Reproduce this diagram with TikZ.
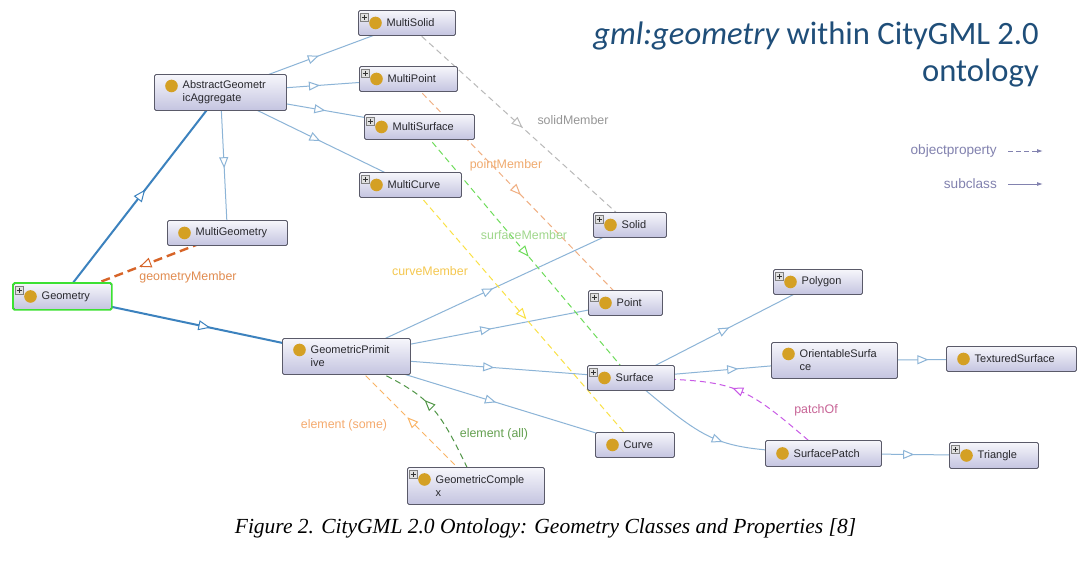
\documentclass[tikz,border=0pt]{standalone}
\usepackage{fontspec}
\setmainfont{Liberation Sans}
\newfontfamily\titlefont{Carlito}
\newfontfamily\capfont{Liberation Serif}
\usetikzlibrary{arrows.meta,decorations.markings,backgrounds,calc}

\definecolor{subc}{RGB}{140,180,215}
\definecolor{subthickc}{RGB}{60,130,190}
\definecolor{boxborder}{RGB}{90,90,105}
\definecolor{boxtop}{RGB}{246,246,251}
\definecolor{boxbot}{RGB}{196,196,224}
\definecolor{dotc}{RGB}{212,160,36}
\definecolor{txtc}{RGB}{40,40,45}
\definecolor{titlec}{RGB}{31,78,121}
\definecolor{legc}{RGB}{130,130,175}
\definecolor{gmline}{RGB}{215,100,40}
\definecolor{gmtext}{RGB}{225,140,80}
\definecolor{smline}{RGB}{185,185,185}
\definecolor{smtext}{RGB}{150,150,150}
\definecolor{pmline}{RGB}{240,175,130}
\definecolor{pmtext}{RGB}{240,170,110}
\definecolor{sfline}{RGB}{110,220,90}
\definecolor{sftext}{RGB}{160,215,140}
\definecolor{cmline}{RGB}{250,225,70}
\definecolor{cmtext}{RGB}{245,200,80}
\definecolor{esline}{RGB}{250,180,100}
\definecolor{estext}{RGB}{245,170,110}
\definecolor{ealine}{RGB}{80,150,70}
\definecolor{eatext}{RGB}{100,160,80}
\definecolor{poline}{RGB}{200,90,230}
\definecolor{potext}{RGB}{200,100,150}
\definecolor{geoborder}{RGB}{60,225,50}

\tikzset{
  clsbox/.style={draw=boxborder, line width=0.9pt, rounded corners=1.5pt,
    top color=boxtop, bottom color=boxbot, inner sep=0pt},
  clstext/.style={font=\fontsize{11}{13}\selectfont, text=txtc, align=left, inner sep=0pt},
  plusbox/.style={draw=gray, fill=black!12, line width=0.5pt},
  plussign/.style={draw=black!80, line width=0.7pt},
  sub/.style={draw=subc, line width=1pt},
  subthick/.style={draw=subthickc, line width=2pt},
  midtri/.style={postaction={decorate}, decoration={markings,
    mark=at position 0.5 with {\arrow[xshift=5.5pt]{Triangle[length=11pt,width=9pt,fill=white]}}}},
  midtribig/.style={postaction={decorate}, decoration={markings,
    mark=at position 0.5 with {\arrow[xshift=6pt]{Triangle[length=12pt,width=10pt,fill=white,line width=1pt]}}}},
  opline/.style={line width=1pt, dash pattern=on 6pt off 4pt},
  gmem/.style={draw=gmline, line width=2.4pt, dash pattern=on 9pt off 5pt},
  smem/.style={opline, draw=smline},
  pmem/.style={opline, draw=pmline},
  sfmem/.style={opline, draw=sfline},
  cmem/.style={opline, draw=cmline},
  esome/.style={opline, draw=esline},
  eall/.style={opline, draw=ealine},
  patchline/.style={opline, draw=poline},
  elabel/.style={font=\fontsize{12.4}{14}\selectfont, inner sep=0pt},
  leglabel/.style={font=\fontsize{13.6}{15}\selectfont, text=legc, inner sep=0pt, anchor=east},
  legline/.style={draw=legc, line width=0.9pt, -{Latex[length=6pt,width=4pt]}},
}

% #1 name, #2 x, #3 y, #4 w, #5 h, #6 dot dy, #7 plus, #8 text
\newcommand\cls[8]{%
  \node[clsbox, minimum width=#4pt, minimum height=#5pt, anchor=north west] (#1) at (#2,#3) {};
  \fill[dotc] ($(#1.west)+(17.5pt,#6pt)$) circle (6.3pt);
  \node[clstext, anchor=west] (#1-t) at ($(#1.west)+(28.5pt,0pt)$) {#8};
  \ifnum#7=1
    \draw[plusbox] ($(#1.north west)+(2pt,-3pt)$) rectangle ++(8pt,-8pt);
    \draw[plussign] ($(#1.north west)+(6pt,-4.5pt)$) -- ++(0pt,-5pt)
                    ($(#1.north west)+(3.5pt,-7pt)$) -- ++(5pt,0pt);
  \fi
}

\begin{document}
\begin{tikzpicture}[x=1pt,y=-1pt]
\useasboundingbox (0,0) rectangle (1090,560);

% classes
\cls{msolid}{358}{10}{97}{25}{0}{1}{MultiSolid}
\cls{aga}{154}{74}{132}{36}{6.5}{0}{AbstractGeometr\\icAggregate}
\cls{mpoint}{359}{66}{98}{25}{0}{1}{MultiPoint}
\cls{msurf}{364}{114}{110}{25}{0}{1}{MultiSurface}
\cls{mcurve}{359}{172}{102}{25}{0}{1}{MultiCurve}
\cls{mgeom}{167}{220}{120}{25}{0}{0}{MultiGeometry}
\cls{geo}{13}{283}{98}{26}{0}{1}{Geometry}
\draw[draw=geoborder, line width=1.6pt, rounded corners=1.5pt] (geo.north west) rectangle (geo.south east);
\cls{gp}{282}{338}{128}{36}{6.5}{0}{GeometricPrimit\\ive}
\cls{solid}{593}{212}{73}{25}{0}{1}{Solid}
\cls{point}{588}{290}{74}{25}{0}{1}{Point}
\cls{surf}{587}{365}{87}{25}{0}{1}{Surface}
\cls{curve}{595}{432}{79}{25}{0}{0}{Curve}
\cls{gcomp}{407}{467}{137}{37}{6.5}{1}{GeometricComple\\x}
\cls{poly}{773}{269}{89}{25}{0}{1}{Polygon}
\cls{osurf}{771}{342}{126}{36}{6.5}{0}{OrientableSurfa\\ce}
\cls{tsurf}{946}{346}{130}{25}{0}{0}{TexturedSurface}
\cls{spatch}{765}{440}{116}{26}{0}{0}{SurfacePatch}
\cls{tri}{949}{442}{89}{26}{0}{1}{Triangle}

% edges
\begin{scope}[on background layer]
\fill[white] (0,0) rectangle (1090,560);
% subclass
\draw[sub,midtri] (aga.center) -- (msolid.center);
\draw[sub,midtri] (aga.center) -- (mpoint.center);
\draw[sub,midtri] (aga.center) -- (msurf.center);
\draw[sub,midtri] (aga.center) -- (mcurve.center);
\draw[sub,midtri] (aga.center) -- (mgeom.center);
\draw[subthick,midtribig] (geo.center) -- (aga.center);
\draw[subthick,midtribig] (geo.center) -- (gp.center);
\draw[sub,midtri] (gp.center) -- (solid.center);
\draw[sub,midtri] (gp.center) -- (point.center);
\draw[sub,midtri] (gp.center) -- (surf.center);
\draw[sub,midtri] (gp.center) -- (curve.center);
\draw[sub,midtri] (surf.center) -- (poly.center);
\draw[sub,midtri] (surf.center) -- (osurf.center);
\draw[sub,midtri] (surf.center) .. controls (714,448) .. (spatch.center);
\draw[sub,midtri] (osurf.center) -- (tsurf.center);
\draw[sub,midtri] (spatch.center) -- (tri.center);
% object properties
\draw[gmem,midtribig] (mgeom.center) -- (geo.center);
\draw[smem,midtri] (msolid.center) -- (solid.center);
\draw[pmem,midtri] (mpoint.center) -- (point.center);
\draw[sfmem,midtri] (msurf.center) -- (surf.center);
\draw[cmem,midtri] (mcurve.center) -- (curve.center);
\draw[esome,midtri] (gcomp.center) -- (gp.center);
\draw[eall,midtri] (gcomp.center) .. controls (434,398) .. (gp.center);
\draw[patchline,midtri] (spatch.center) .. controls (740,381) .. (surf.center);
\end{scope}

% edge labels
\node[elabel, text=gmtext] (l-gm) at (188,277) {geometryMember};
\node[elabel, text=smtext] (l-sm) at (573,120) {solidMember};
\node[elabel, text=pmtext] (l-pm) at (506,165) {pointMember};
\node[elabel, text=sftext] (l-sf) at (524,235) {surfaceMember};
\node[elabel, text=cmtext] (l-cm) at (430,271) {curveMember};
\node[elabel, text=estext] (l-es) at (344,425) {element (some)};
\node[elabel, text=eatext] (l-ea) at (494,434) {element (all)};
\node[elabel, text=potext] (l-po) at (816,410) {patchOf};

% title
\node[anchor=base east, inner sep=0pt, text=titlec, font=\titlefont\fontsize{32.6}{37}\selectfont] (title1) at (1039,44) {\itshape gml:geometry\upshape{} within CityGML 2.0};
\node[anchor=base east, inner sep=0pt, text=titlec, font=\titlefont\fontsize{32.6}{37}\selectfont] (title2) at (1039,81) {ontology};

% legend
\node[leglabel] (lg-op) at (997,151) {objectproperty};
\coordinate (lg-op-a) at (1008,151);
\coordinate (lg-op-b) at (1043,151);
\draw[legline, dash pattern=on 5pt off 3pt] (lg-op-a) -- (lg-op-b);
\node[leglabel] (lg-sc) at (997,184) {subclass};
\coordinate (lg-sc-a) at (1008,184);
\coordinate (lg-sc-b) at (1043,184);
\draw[legline] (lg-sc-a) -- (lg-sc-b);

% caption
\node[inner sep=0pt, anchor=base] (cap) at (545.5,533) {\capfont\itshape\fontsize{21.5}{24}\selectfont Figure 2. CityGML 2.0 Ontology: Geometry Classes and Properties [8]};
\end{tikzpicture}
\end{document}
